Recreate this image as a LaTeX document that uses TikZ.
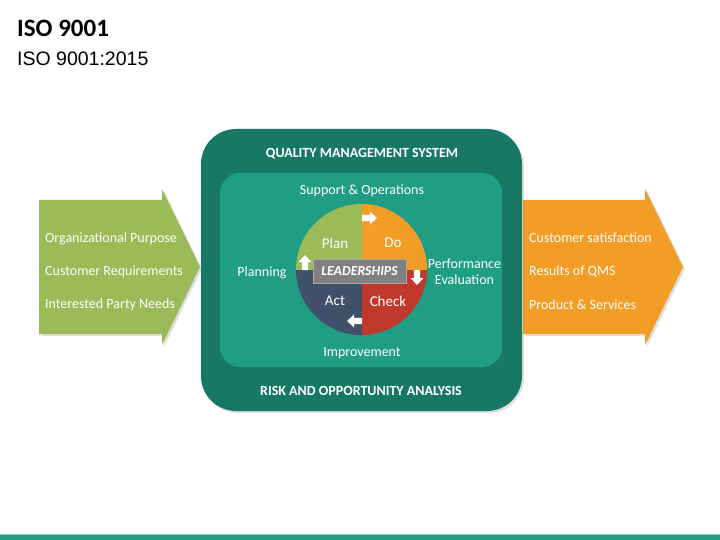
\documentclass[tikz,border=0pt]{standalone}
\usepackage{fontspec}
\setmainfont{Carlito}
\newfontfamily\arialfont{Liberation Sans}
\usetikzlibrary{shadows}
\definecolor{outerteal}{RGB}{23,121,99}
\definecolor{innerteal}{RGB}{31,158,132}
\definecolor{plangreen}{RGB}{155,187,89}
\definecolor{doorange}{RGB}{242,157,38}
\definecolor{checkred}{RGB}{192,57,43}
\definecolor{actslate}{RGB}{63,80,104}
\definecolor{leadgray}{RGB}{128,128,128}
\definecolor{leadborder}{RGB}{170,170,170}
\definecolor{barline}{RGB}{150,200,190}
\tikzset{
  smalltxt/.style={text=white,font=\fontsize{14}{16}\selectfont,inner sep=0pt,yshift=-1.5pt},
  headtxt/.style={text=white,font=\fontsize{14}{16}\selectfont\bfseries,inner sep=0pt,yshift=-1.5pt},
  pdcatxt/.style={text=white,font=\fontsize{15}{17}\selectfont,inner sep=0pt},
  listtxt/.style={text=white,font=\fontsize{14}{16}\selectfont,inner sep=0pt,anchor=west,yshift=-1.5pt},
  warrow/.pic={\fill[white] (-7.5,-3.2) -- (0.5,-3.2) -- (0.5,-6.5) -- (7.5,0) -- (0.5,6.5) -- (0.5,3.2) -- (-7.5,3.2) -- cycle;},
  shadowed/.style={drop shadow={opacity=0.25,shadow xshift=2pt,shadow yshift=-2pt}}
}
\begin{document}
\begin{tikzpicture}[x=1pt,y=-1pt]
\useasboundingbox (0,0) rectangle (720,540);
% titles
\node[anchor=base west,inner sep=0pt,font=\fontsize{25}{28}\selectfont\bfseries] (title) at (17,37) {ISO 9001};
\node[anchor=base west,inner sep=0pt,font=\arialfont\fontsize{19.5}{24}\selectfont] (subtitle) at (17,66) {ISO 9001:2015};
% bottom bar
\fill[barline] (0,533.5) rectangle (720,534.5);
\fill[innerteal] (0,535) rectangle (720,540);
% left arrow
\fill[plangreen,shadowed] (39,200) -- (162,200) -- (162,189) -- (200,267) -- (162,345) -- (162,334) -- (39,334) -- cycle;
\node[listtxt] (l1) at (45,237) {Organizational Purpose};
\node[listtxt] (l2) at (45,270) {Customer Requirements};
\node[listtxt] (l3) at (45,303) {Interested Party Needs};
% right arrow
\fill[doorange,shadowed] (523,200) -- (645,200) -- (645,189) -- (683,267) -- (645,345) -- (645,334) -- (523,334) -- cycle;
\node[listtxt] (r1) at (529,236) {Customer satisfaction};
\node[listtxt] (r2) at (529,270) {Results of QMS};
\node[listtxt] (r3) at (529,303) {Product \& Services};
% outer box
\fill[outerteal,rounded corners=35pt,shadowed] (201,129) rectangle (522,411);
\fill[innerteal,rounded corners=20pt] (220,173) rectangle (502,367);
\node[headtxt] (qms) at (362,152) {QUALITY MANAGEMENT SYSTEM};
\node[headtxt] (risk) at (361,389) {RISK AND OPPORTUNITY ANALYSIS};
\node[smalltxt] (supp) at (362,189) {Support \& Operations};
\node[smalltxt] (impr) at (362,352) {Improvement};
\node[smalltxt] (plng) at (262,271) {Planning};
\node[smalltxt,align=center] (perf) at (464.5,270) {Performance\\Evaluation};
% PDCA circle
\begin{scope}
\clip (361.5,269.5) circle (65.5pt);
\fill[plangreen] (290,200) rectangle (361.5,269.5);
\fill[doorange] (361.5,200) rectangle (433,269.5);
\fill[checkred] (361.5,269.5) rectangle (433,340);
\fill[actslate] (290,269.5) rectangle (361.5,340);
\end{scope}
\node[pdcatxt] (plan) at (335,243) {Plan};
\node[pdcatxt] (do) at (393,243) {Do};
\node[pdcatxt] (act) at (335,301) {Act};
\node[pdcatxt] (check) at (388,301) {Check};
\pic at (369.5,218) {warrow};
\pic[rotate=-90] at (417,277.5) {warrow};
\pic[rotate=180] at (354.5,321) {warrow};
\pic[rotate=90] at (305,262.5) {warrow};
\node[fill=leadgray,draw=leadborder,line width=1pt,minimum width=93pt,minimum height=24pt,inner sep=0pt,text=white,font=\fontsize{13.8}{16}\selectfont\bfseries\itshape] (lead) at (359.5,271) {LEADERSHIPS};
\end{tikzpicture}
\end{document}
